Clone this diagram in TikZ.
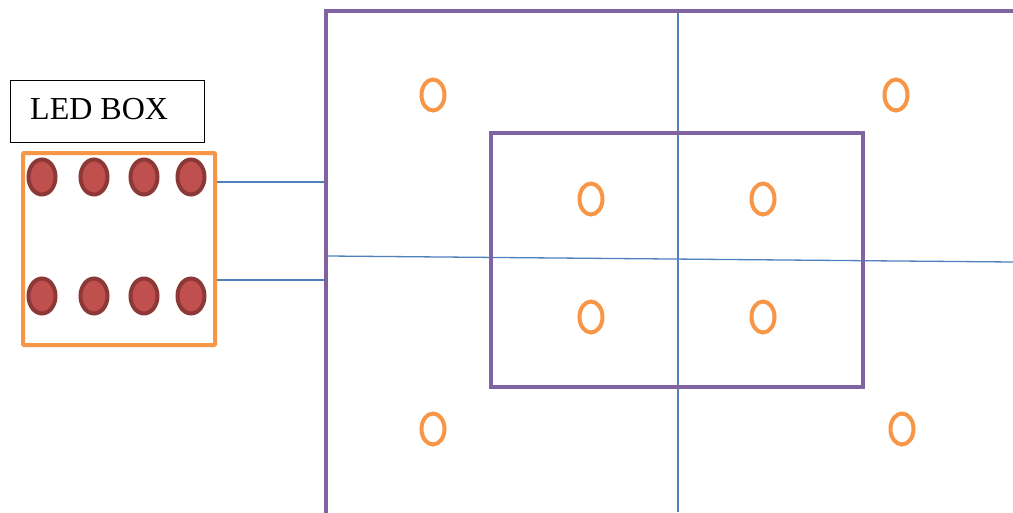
\documentclass[tikz,border=0pt]{standalone}
\usepackage{fontspec}
\setmainfont{Liberation Serif}
\definecolor{ledorange}{HTML}{F79646}
\definecolor{ledpurple}{HTML}{8064A2}
\definecolor{ledblue}{HTML}{4F81BD}
\definecolor{ledred}{HTML}{C0504D}
\definecolor{ledborder}{HTML}{8C3836}
\tikzset{
  led/.style={ellipse, draw=ledborder, fill=ledred, line width=4pt, minimum width=27pt, minimum height=35pt, inner sep=0pt},
  ring/.style={ellipse, draw=ledorange, line width=4pt, minimum width=23pt, minimum height=31pt, inner sep=0pt},
  wire/.style={draw=ledblue, line width=1.3pt},
  frame/.style={draw=ledpurple, line width=4.5pt}
}
\usetikzlibrary{shapes.geometric}
\begin{document}
\begin{tikzpicture}[x=1pt,y=-1pt]
\useasboundingbox (0,0) rectangle (1013,512);
\clip (0,0) rectangle (1013,512);
\fill[white] (0,0) rectangle (1013,512);
% label
\node[draw=black, line width=0.8pt, minimum width=194pt, minimum height=62pt, inner sep=0pt, anchor=north west] (label) at (10,80) {};
\node[anchor=west, font=\fontsize{32}{34}\selectfont, inner sep=0pt] (labeltext) at (30,109) {LED BOX};
% LED box
\node[draw=ledorange, line width=4pt, rounded corners=1pt, minimum width=192pt, minimum height=192pt, inner sep=0pt, anchor=north west] (ledbox) at (21,151) {};
\foreach \i/\x in {1/42,2/94,3/144,4/191}{
  \node[led] (t\i) at (\x,177) {};
  \node[led] (b\i) at (\x,296) {};
}
% outer frame
\coordinate (otl) at (326,11);
\draw[frame] (1030,11) -- (otl) -- (326,530);
\coordinate (w1) at (324,182);
\coordinate (w2) at (324,280);
\draw[wire] (ledbox.east |- w1) -- (w1);
\draw[wire] (ledbox.east |- w2) -- (w2);
% cross lines
\coordinate (vtop) at (678,13);
\coordinate (vbot) at (678,512);
\coordinate (hl) at (328,256);
\coordinate (hr) at (1013,262);
\draw[wire] (vtop) -- (vbot);
\draw[wire] (hl) -- (hr);
% inner frame
\node[draw=ledpurple, line width=4pt, minimum width=372pt, minimum height=254pt, inner sep=0pt, anchor=north west] (inner) at (489,131) {};
% rings
\node[ring] (r1) at (433,95) {};
\node[ring] (r2) at (896,95) {};
\node[ring] (r3) at (591,199) {};
\node[ring] (r4) at (763,199) {};
\node[ring] (r5) at (591,317) {};
\node[ring] (r6) at (763,317) {};
\node[ring] (r7) at (433,429) {};
\node[ring] (r8) at (902,429) {};
\end{tikzpicture}
\end{document}
